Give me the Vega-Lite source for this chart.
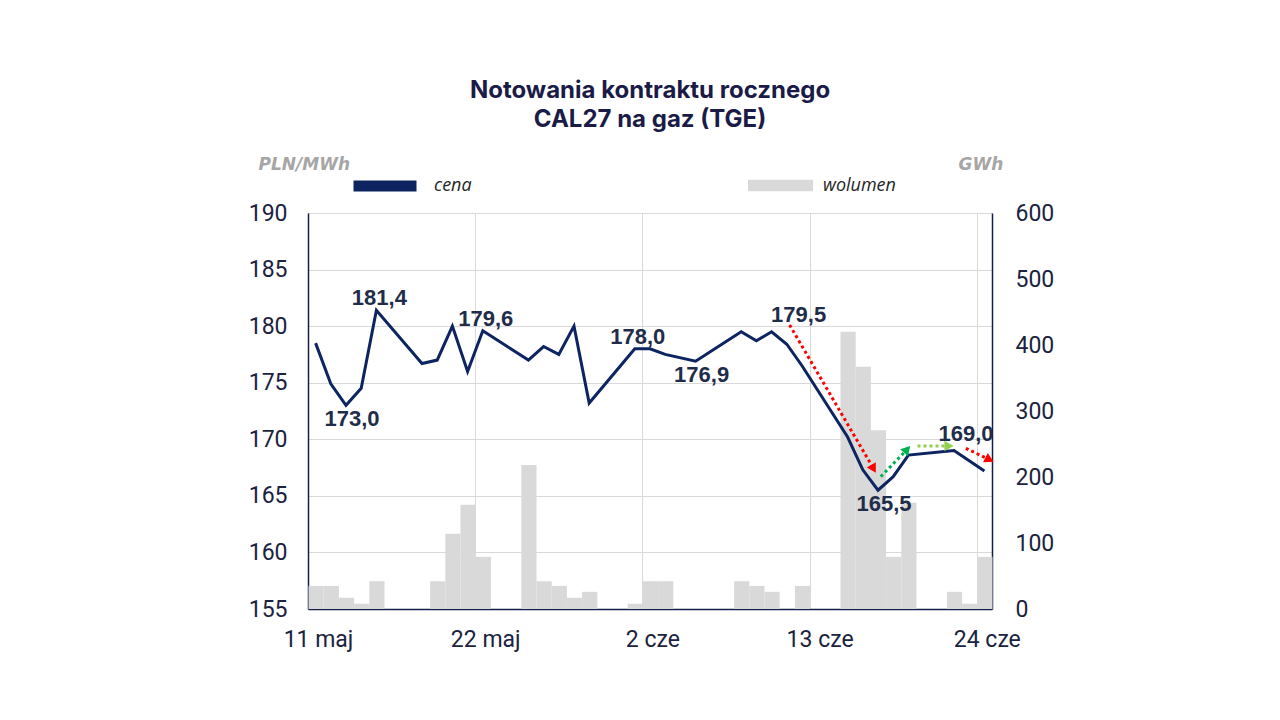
{
  "$schema": "https://vega.github.io/schema/vega-lite/v6.json",
  "width": 684,
  "height": 396,
  "autosize": {"type": "none"},
  "padding": {"left": 308, "top": 213, "right": 288, "bottom": 111},
  "background": "white",
  "config": {
    "view": {"stroke": null},
    "axis": {
      "labelFont": "Roboto",
      "labelFontSize": 23,
      "labelColor": "#1b2340",
      "ticks": false,
      "gridColor": "#d9d9d9",
      "gridWidth": 1,
      "domainColor": "#14204a",
      "domainWidth": 1.5,
      "titleFont": "DejaVu Sans",
      "titleFontSize": 17,
      "titleFontWeight": "bold",
      "titleFontStyle": "italic",
      "titleColor": "#a6a6a6"
    },
    "legend": {
      "labelFont": "Open Sans",
      "labelFontSize": 18,
      "labelFontStyle": "italic",
      "labelColor": "#262626",
      "title": null
    }
  },
  "title": {
    "text": ["Notowania kontraktu rocznego", "CAL27 na gaz (TGE)"],
    "font": "Inter",
    "fontSize": 24,
    "fontWeight": "bold",
    "color": "#1b1b47",
    "lineHeight": 29,
    "anchor": "middle",
    "offset": 17
  },
  "datasets": {
    "notowania": [
      {"data": "2026-05-11T00:00:00", "cena": 178.5, "wolumen": 35, "etykieta": ""},
      {"data": "2026-05-12T00:00:00", "cena": 174.9, "wolumen": 35, "etykieta": ""},
      {"data": "2026-05-13T00:00:00", "cena": 173.0, "wolumen": 17, "etykieta": "173,0"},
      {"data": "2026-05-14T00:00:00", "cena": 174.5, "wolumen": 8, "etykieta": ""},
      {"data": "2026-05-15T00:00:00", "cena": 181.4, "wolumen": 42, "etykieta": "181,4"},
      {"data": "2026-05-18T00:00:00", "cena": 176.7, "wolumen": 0, "etykieta": ""},
      {"data": "2026-05-19T00:00:00", "cena": 177.0, "wolumen": 42, "etykieta": ""},
      {"data": "2026-05-20T00:00:00", "cena": 180.0, "wolumen": 114, "etykieta": ""},
      {"data": "2026-05-21T00:00:00", "cena": 176.0, "wolumen": 158, "etykieta": ""},
      {"data": "2026-05-22T00:00:00", "cena": 179.6, "wolumen": 79, "etykieta": "179,6"},
      {"data": "2026-05-25T00:00:00", "cena": 177.0, "wolumen": 218, "etykieta": ""},
      {"data": "2026-05-26T00:00:00", "cena": 178.2, "wolumen": 42, "etykieta": ""},
      {"data": "2026-05-27T00:00:00", "cena": 177.5, "wolumen": 35, "etykieta": ""},
      {"data": "2026-05-28T00:00:00", "cena": 180.0, "wolumen": 17, "etykieta": ""},
      {"data": "2026-05-29T00:00:00", "cena": 173.2, "wolumen": 26, "etykieta": ""},
      {"data": "2026-06-01T00:00:00", "cena": 178.0, "wolumen": 8, "etykieta": "178,0"},
      {"data": "2026-06-02T00:00:00", "cena": 178.0, "wolumen": 42, "etykieta": ""},
      {"data": "2026-06-03T00:00:00", "cena": 177.5, "wolumen": 42, "etykieta": ""},
      {"data": "2026-06-05T00:00:00", "cena": 176.9, "wolumen": 0, "etykieta": "176,9"},
      {"data": "2026-06-08T00:00:00", "cena": 179.5, "wolumen": 42, "etykieta": ""},
      {"data": "2026-06-09T00:00:00", "cena": 178.7, "wolumen": 35, "etykieta": ""},
      {"data": "2026-06-10T00:00:00", "cena": 179.5, "wolumen": 26, "etykieta": "179,5"},
      {"data": "2026-06-11T00:00:00", "cena": 178.4, "wolumen": 0, "etykieta": ""},
      {"data": "2026-06-12T00:00:00", "cena": 176.5, "wolumen": 35, "etykieta": ""},
      {"data": "2026-06-15T00:00:00", "cena": 170.2, "wolumen": 420, "etykieta": ""},
      {"data": "2026-06-16T00:00:00", "cena": 167.3, "wolumen": 367, "etykieta": ""},
      {"data": "2026-06-17T00:00:00", "cena": 165.5, "wolumen": 271, "etykieta": "165,5"},
      {"data": "2026-06-18T00:00:00", "cena": 166.7, "wolumen": 79, "etykieta": ""},
      {"data": "2026-06-19T00:00:00", "cena": 168.6, "wolumen": 161, "etykieta": ""},
      {"data": "2026-06-22T00:00:00", "cena": 169.0, "wolumen": 26, "etykieta": "169,0"},
      {"data": "2026-06-23T00:00:00", "cena": 168.1, "wolumen": 8, "etykieta": ""},
      {"data": "2026-06-24T00:00:00", "cena": 167.2, "wolumen": 79, "etykieta": ""}
    ],
    "strzalki": [
      {"strzalka": "s1", "od": "2026-06-11T16:30:00", "do": "2026-06-17T05:00:00", "c1": 180.1, "c2": 167.4},
      {"strzalka": "s2", "od": "2026-06-17T16:20:00", "do": "2026-06-19T10:00:00", "c1": 166.7, "c2": 169.1},
      {"strzalka": "s3", "od": "2026-06-20T02:20:00", "do": "2026-06-22T04:00:00", "c1": 169.4, "c2": 169.4},
      {"strzalka": "s4", "od": "2026-06-23T06:40:00", "do": "2026-06-24T20:00:00", "c1": 169.2, "c2": 168.2}
    ]
  },
  "layer": [
    {
      "data": {"name": "notowania"},
      "mark": {"type": "bar", "opacity": 1, "binSpacing": 0, "cornerRadius": 0},
      "encoding": {
        "x": {
          "field": "data",
          "timeUnit": "yearmonthdate",
          "type": "temporal",
          "scale": {"domain": [{"year": 2026, "month": 5, "date": 11}, {"year": 2026, "month": 6, "date": 25}]},
          "axis": {
            "title": null,
            "values": [
              {"year": 2026, "month": 5, "date": 11},
              {"year": 2026, "month": 5, "date": 22},
              {"year": 2026, "month": 6, "date": 2},
              {"year": 2026, "month": 6, "date": 13},
              {"year": 2026, "month": 6, "date": 24}
            ],
            "labelExpr": "date(datum.value) + ' ' + (month(datum.value) == 4 ? 'maj' : 'cze')",
            "labelFlush": false,
            "labelOffset": 10,
            "labelPadding": 19,
            "grid": true,
            "domainColor": "#14204a"
          }
        },
        "y": {
          "field": "wolumen",
          "type": "quantitative",
          "scale": {"domain": [0, 600]},
          "axis": {
            "orient": "right",
            "title": "GWh",
            "titleAngle": 0,
            "titleAlign": "left",
            "titleBaseline": "alphabetic",
            "titleX": -34,
            "titleY": -44,
            "values": [0, 100, 200, 300, 400, 500, 600],
            "labelPadding": 23,
            "grid": false
          }
        },
        "fill": {
          "datum": "wolumen",
          "scale": {"range": ["#d9d9d9"]},
          "legend": {
            "orient": "none",
            "legendX": 440,
            "legendY": -60,
            "symbolType": "M-1,-0.175H1V0.175H-1Z",
            "symbolSize": 4225,
            "symbolStrokeWidth": 0,
            "labelOffset": 10
          }
        }
      }
    },
    {
      "layer": [
        {
          "data": {"name": "notowania"},
          "mark": {"type": "line", "strokeWidth": 3, "strokeJoin": "miter"},
          "encoding": {
            "x": {"field": "data", "timeUnit": "yearmonthdate", "type": "temporal", "bandPosition": 0.5},
            "y": {
              "field": "cena",
              "type": "quantitative",
              "scale": {"domain": [155, 190]},
              "axis": {
                "title": "PLN/MWh",
                "titleAngle": 0,
                "titleAlign": "left",
                "titleBaseline": "alphabetic",
                "titleX": -50,
                "titleY": -44,
                "values": [155, 160, 165, 170, 175, 180, 185, 190],
                "labelPadding": 21,
                "grid": true
              }
            },
            "stroke": {
              "datum": "cena",
              "scale": {"range": ["#0d2461"]},
              "legend": {
                "orient": "none",
                "legendX": 40,
                "legendY": -64,
                "symbolType": "stroke",
                "symbolSize": 3969,
                "symbolStrokeWidth": 11,
                "labelOffset": 12
              }
            }
          }
        },
        {
          "data": {"name": "strzalki"},
          "mark": {"type": "rule", "strokeWidth": 3, "strokeDash": [3, 3]},
          "encoding": {
            "x": {"field": "od", "type": "temporal"},
            "x2": {"field": "do"},
            "y": {"field": "c1", "type": "quantitative"},
            "y2": {"field": "c2"},
            "color": {
              "field": "strzalka",
              "type": "nominal",
              "scale": {"domain": ["s1", "s2", "s3", "s4"], "range": ["#ff0000", "#00b050", "#92d050", "#ff0000"]},
              "legend": null
            }
          }
        },
        {
          "data": {"name": "strzalki"},
          "transform": [{"filter": "datum.strzalka == 's1'"}],
          "mark": {"type": "point", "shape": "triangle-up", "filled": true, "size": 110, "angle": 150, "color": "#ff0000", "opacity": 1},
          "encoding": {
            "x": {"field": "do", "type": "temporal"},
            "y": {"field": "c2", "type": "quantitative"}
          }
        },
        {
          "data": {"name": "strzalki"},
          "transform": [{"filter": "datum.strzalka == 's2'"}],
          "mark": {"type": "point", "shape": "triangle-up", "filled": true, "size": 110, "angle": 42, "color": "#00b050", "opacity": 1},
          "encoding": {
            "x": {"field": "do", "type": "temporal"},
            "y": {"field": "c2", "type": "quantitative"}
          }
        },
        {
          "data": {"name": "strzalki"},
          "transform": [{"filter": "datum.strzalka == 's3'"}],
          "mark": {"type": "point", "shape": "triangle-up", "filled": true, "size": 110, "angle": 90, "color": "#92d050", "opacity": 1},
          "encoding": {
            "x": {"field": "do", "type": "temporal"},
            "y": {"field": "c2", "type": "quantitative"}
          }
        },
        {
          "data": {"name": "strzalki"},
          "transform": [{"filter": "datum.strzalka == 's4'"}],
          "mark": {"type": "point", "shape": "triangle-up", "filled": true, "size": 110, "angle": 117, "color": "#ff0000", "opacity": 1},
          "encoding": {
            "x": {"field": "do", "type": "temporal"},
            "y": {"field": "c2", "type": "quantitative"}
          }
        },
        {
          "data": {"name": "notowania"},
          "transform": [{"filter": {"field": "etykieta", "oneOf": ["181,4", "179,6", "178,0"]}}],
          "mark": {"type": "text", "font": "Liberation Sans", "fontWeight": "bold", "fontSize": 22, "color": "#1f2d4a", "baseline": "alphabetic", "dx": 3, "dy": -5},
          "encoding": {
            "x": {"field": "data", "timeUnit": "yearmonthdate", "type": "temporal", "bandPosition": 0.5},
            "y": {"field": "cena", "type": "quantitative"},
            "text": {"field": "etykieta"}
          }
        },
        {
          "data": {"name": "notowania"},
          "transform": [{"filter": {"field": "etykieta", "oneOf": ["173,0", "176,9", "165,5"]}}],
          "mark": {"type": "text", "font": "Liberation Sans", "fontWeight": "bold", "fontSize": 22, "color": "#1f2d4a", "baseline": "alphabetic", "dx": 6, "dy": 21},
          "encoding": {
            "x": {"field": "data", "timeUnit": "yearmonthdate", "type": "temporal", "bandPosition": 0.5},
            "y": {"field": "cena", "type": "quantitative"},
            "text": {"field": "etykieta"}
          }
        },
        {
          "data": {"name": "notowania"},
          "transform": [{"filter": {"field": "etykieta", "oneOf": ["179,5"]}}],
          "mark": {"type": "text", "font": "Liberation Sans", "fontWeight": "bold", "fontSize": 22, "color": "#1f2d4a", "baseline": "alphabetic", "dx": 27, "dy": -10},
          "encoding": {
            "x": {"field": "data", "timeUnit": "yearmonthdate", "type": "temporal", "bandPosition": 0.5},
            "y": {"field": "cena", "type": "quantitative"},
            "text": {"field": "etykieta"}
          }
        },
        {
          "data": {"name": "notowania"},
          "transform": [{"filter": {"field": "etykieta", "oneOf": ["169,0"]}}],
          "mark": {"type": "text", "font": "Liberation Sans", "fontWeight": "bold", "fontSize": 22, "color": "#1f2d4a", "baseline": "alphabetic", "dx": 12, "dy": -10},
          "encoding": {
            "x": {"field": "data", "timeUnit": "yearmonthdate", "type": "temporal", "bandPosition": 0.5},
            "y": {"field": "cena", "type": "quantitative"},
            "text": {"field": "etykieta"}
          }
        }
      ]
    }
  ],
  "resolve": {"scale": {"y": "independent"}}
}
